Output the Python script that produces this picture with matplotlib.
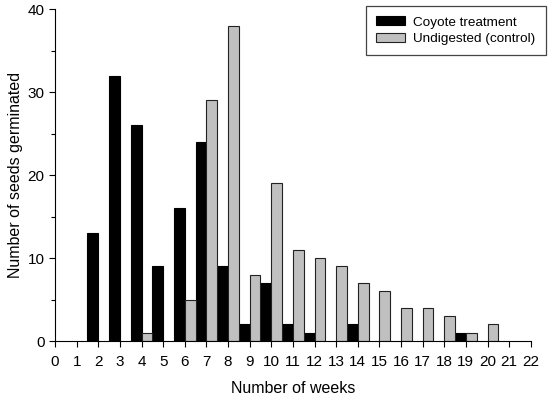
import matplotlib.pyplot as plt
from matplotlib.ticker import MultipleLocator

plt.rcParams['font.family'] = ['Liberation Sans', 'DejaVu Sans']

coyote_weeks = [2, 3, 4, 5, 6, 7, 8, 9, 10, 11, 12, 14, 19]
coyote_counts = [13, 32, 26, 9, 16, 24, 9, 2, 7, 2, 1, 2, 1]
control_weeks = [4, 6, 7, 8, 9, 10, 11, 12, 13, 14, 15, 16, 17, 18, 19, 20]
control_counts = [1, 5, 29, 38, 8, 19, 11, 10, 9, 7, 6, 4, 4, 3, 1, 2]

fig = plt.figure(figsize=(5.5, 3.98), dpi=100)
ax = fig.add_axes([0.1, 0.143, 0.865, 0.834])

ax.bar(coyote_weeks, coyote_counts, width=-0.5, align="edge", color="black",
       edgecolor="black", linewidth=0.8, label="Coyote treatment")
ax.bar(control_weeks, control_counts, width=0.5, align="edge", color="#c0c0c0",
       edgecolor="#222222", linewidth=0.8, label="Undigested (control)")

ax.set_xlim(0, 22)
ax.set_ylim(0, 40)
ax.set_xticks(range(0, 23))
ax.yaxis.set_major_locator(MultipleLocator(10))
ax.yaxis.set_minor_locator(MultipleLocator(5))
ax.tick_params(direction="out", labelsize=11, length=4, width=0.8)
ax.tick_params(axis="x", pad=6)
ax.tick_params(which="minor", length=3, width=0.8)
for s in ["top", "right"]:
    ax.spines[s].set_visible(False)

ax.set_xlabel("Number of weeks", fontsize=11.5, labelpad=9)
ax.set_ylabel("Number of seeds germinated", fontsize=11.5, labelpad=3)

leg = ax.legend(loc="upper right", bbox_to_anchor=(0.992, 0.984), bbox_transform=fig.transFigure,
                fontsize=9.7, fancybox=False, framealpha=1, edgecolor="#444444",
                handlelength=2.15, handleheight=0.65, handletextpad=0.6,
                borderpad=0.75, borderaxespad=0, labelspacing=0.3)
leg.get_frame().set_linewidth(0.9)

fig.savefig("out.png", dpi=100)
